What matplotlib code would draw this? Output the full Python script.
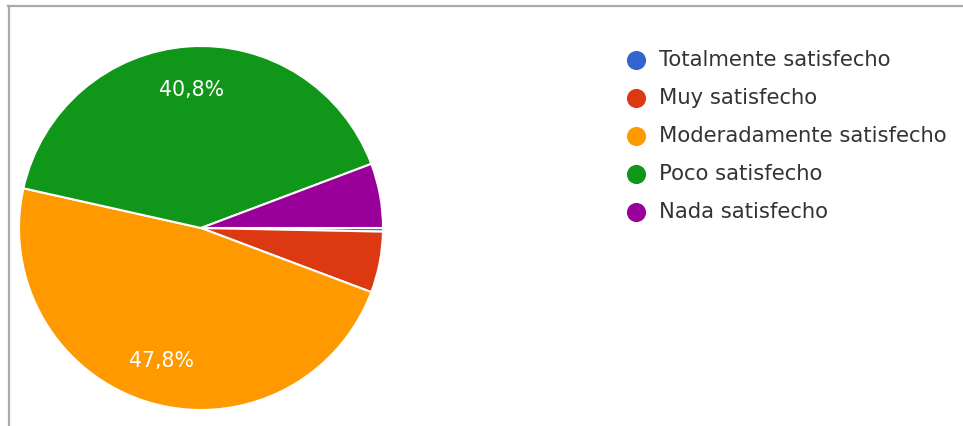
import matplotlib
matplotlib.use("Agg")
import matplotlib.pyplot as plt
from matplotlib.lines import Line2D

# Survey responses (counts) and legend categories
categories = [
    "Totalmente satisfecho",
    "Muy satisfecho",
    "Moderadamente satisfecho",
    "Poco satisfecho",
    "Nada satisfecho",
]
counts = [1, 17, 150, 128, 18]
colors = ["#3366cc", "#dc3912", "#ff9900", "#109618", "#990099"]

W, H = 963, 426
fig = plt.figure(figsize=(W / 100, H / 100), dpi=100)
ax = fig.add_axes([0, 0, 1, 1])
ax.set_xlim(0, W)
ax.set_ylim(H, 0)
ax.axis("off")

# pie axes in pixel coordinates (y up)
pax = fig.add_axes([0, 0, 1, 1])


def pct_label(p):
    return f"{p:.1f}%".replace(".", ",") if p > 10 else ""


wedges, texts, autotexts = pax.pie(
    counts,
    colors=colors,
    startangle=0,
    counterclock=False,
    center=(201, H - 228),
    radius=182,
    autopct=pct_label,
    pctdistance=0.76,
    wedgeprops=dict(edgecolor="white", linewidth=1.5),
    textprops=dict(color="white", fontsize=14.8, family="DejaVu Sans"),
    frame=True,
)
pax.set_xlim(0, W)
pax.set_ylim(0, H)
pax.set_aspect("equal")
pax.axis("off")

# frame lines (top and left edges)
ax.add_line(Line2D([8, W], [6, 6], color="#aaaaaa", linewidth=1.6))
ax.add_line(Line2D([9, 9], [6, H], color="#aaaaaa", linewidth=1.6))

# legend
legend_y = [60, 98, 136, 174, 212]
for name, col, y in zip(categories, colors, legend_y):
    ax.scatter([636], [y], s=190, color=col, zorder=3, linewidths=0)
    ax.text(659, y, name, fontsize=15.2, color="#333333", va="center",
            ha="left", family="DejaVu Sans")

fig.savefig("out.png", dpi=100)
